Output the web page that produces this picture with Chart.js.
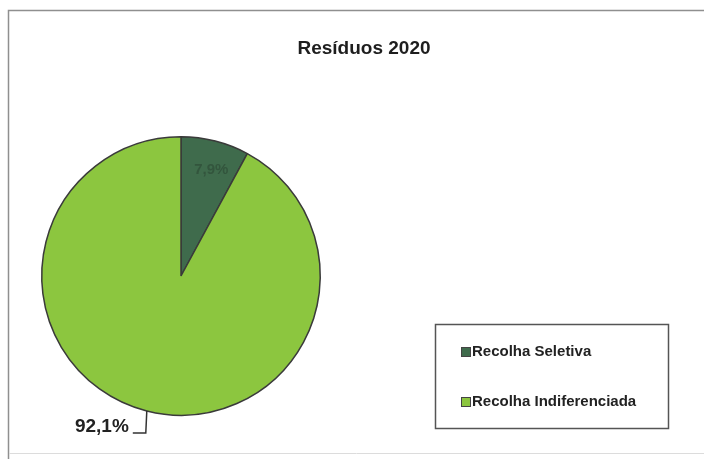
<!DOCTYPE html>
<html>
<head>
<meta charset="utf-8">
<script src="https://cdn.jsdelivr.net/npm/chart.js@4/dist/chart.umd.min.js"></script>
<style>
  html, body { margin: 0; padding: 0; background: #fff; }
  #wrap { position: relative; width: 704px; height: 459px; }
</style>
</head>
<body>
<div id="wrap"><canvas id="c" width="704" height="459"></canvas></div>
<script>
const labels = ['Recolha Seletiva', 'Recolha Indiferenciada'];
const values = [7.9, 92.1];
const colors = ['#3f6b4c', '#8cc63f'];

const fmt = (v) => v.toFixed(1).replace('.', ',') + '%';
const FONT = '"Liberation Sans", Arial, sans-serif';

const extras = {
  id: 'extras',
  afterDraw(chart) {
    const ctx = chart.ctx;
    ctx.save();
    // outer frame (right edge is cut off in the scan)
    ctx.strokeStyle = '#8f8f8f';
    ctx.lineWidth = 1.5;
    ctx.beginPath();
    ctx.moveTo(704, 10.5);
    ctx.lineTo(8.5, 10.5);
    ctx.lineTo(8.5, 459);
    ctx.stroke();
    ctx.strokeStyle = '#dcdcdc';
    ctx.lineWidth = 1;
    ctx.beginPath();
    ctx.moveTo(9, 453.5);
    ctx.lineTo(704, 453.5);
    ctx.stroke();

    // title
    ctx.fillStyle = '#1e1e1e';
    ctx.font = 'bold 19px ' + FONT;
    ctx.textAlign = 'center';
    ctx.textBaseline = 'middle';
    ctx.fillText('Resíduos 2020', 364, 49);

    // slice labels
    const arcs = chart.getDatasetMeta(0).data;
    const a0 = arcs[0];
    const mid0 = (a0.startAngle + a0.endAngle) / 2;
    const r0 = a0.outerRadius * 0.8;
    ctx.font = 'bold 15px ' + FONT;
    ctx.fillStyle = '#33553d';
    ctx.fillText(fmt(values[0]), a0.x + Math.cos(mid0) * r0 + 3, a0.y + Math.sin(mid0) * r0 + 2);

    const a1 = arcs[1];
    const ang = (a1.startAngle + a1.endAngle) / 2;
    const ex = a1.x + Math.cos(ang) * a1.outerRadius;
    const ey = a1.y + Math.sin(ang) * a1.outerRadius;
    ctx.strokeStyle = '#333';
    ctx.lineWidth = 1.5;
    ctx.beginPath();
    ctx.moveTo(ex, ey);
    ctx.lineTo(ex - 1, 433);
    ctx.lineTo(ex - 14, 433);
    ctx.stroke();
    ctx.fillStyle = '#222';
    ctx.font = 'bold 19px ' + FONT;
    ctx.textAlign = 'right';
    ctx.fillText(fmt(values[1]), ex - 18, 427);

    // legend
    ctx.strokeStyle = '#555';
    ctx.lineWidth = 1.5;
    ctx.strokeRect(435.5, 324.5, 233, 104);
    ctx.textAlign = 'left';
    ctx.font = 'bold 15px ' + FONT;
    const ly = [352, 402];
    labels.forEach((t, i) => {
      ctx.fillStyle = colors[i];
      ctx.fillRect(461, ly[i] - 5, 10, 10);
      ctx.strokeStyle = '#444';
      ctx.lineWidth = 1;
      ctx.strokeRect(461.5, ly[i] - 4.5, 9, 9);
      ctx.fillStyle = '#222';
      ctx.fillText(t, 472, ly[i]);
    });
    ctx.restore();
  }
};

new Chart(document.getElementById('c'), {
  type: 'pie',
  data: {
    labels: labels,
    datasets: [{
      data: values,
      backgroundColor: colors,
      borderColor: '#3a3a3a',
      borderWidth: 1.5,
    }],
  },
  options: {
    responsive: false,
    animation: false,
    layout: { padding: { left: 41, right: 383, top: 136, bottom: 43 } },
    plugins: {
      legend: { display: false },
      tooltip: { enabled: false },
    },
  },
  plugins: [extras],
});
</script>
</body>
</html>
